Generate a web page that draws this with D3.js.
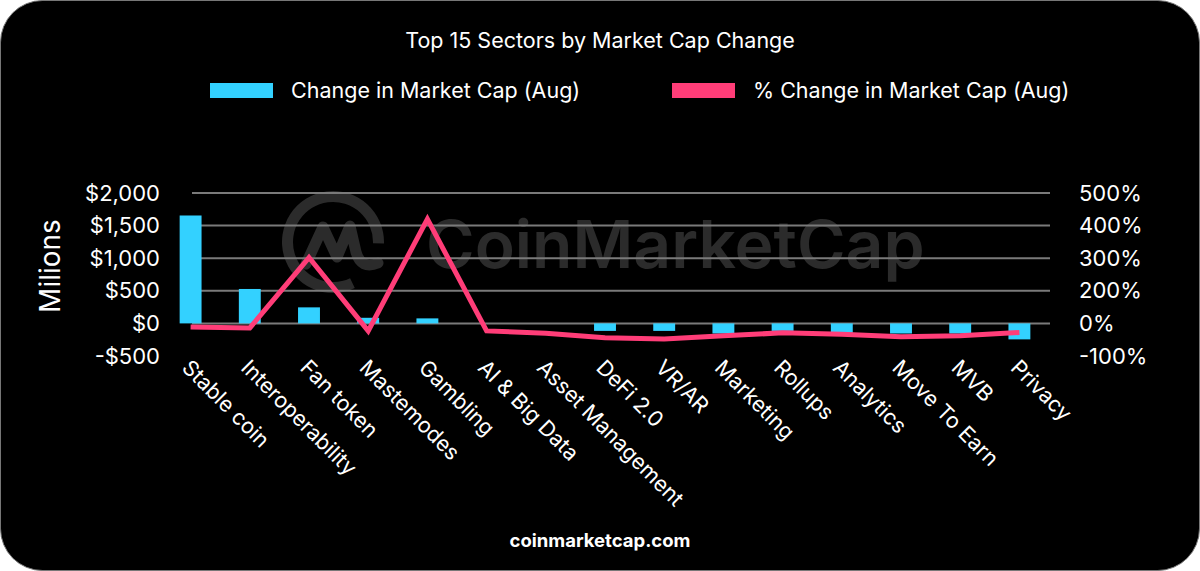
<!DOCTYPE html>
<html>
<head>
<meta charset="utf-8">
<script src="https://cdn.jsdelivr.net/npm/d3@7"></script>
<style>
  html, body { margin: 0; padding: 0; background: #fff; }
  svg { display: block; font-family: Inter, "Noto Sans", sans-serif; }
</style>
</head>
<body>
<div id="chart"></div>
<script>
// data
var sectors = ["Stable coin", "Interoperability", "Fan token", "Mastemodes", "Gambling",
  "AI & Big Data", "Asset Management", "DeFi 2.0", "VR/AR", "Marketing",
  "Rollups", "Analytics", "Move To Earn", "MVB", "Privacy"];
// change in market cap, millions USD
var capChange = [1655, 528, 246, 86, 77, 0, 0, -115, -115, -155, -115, -145, -155, -155, -245];
// % change in market cap
var pctChange = [-11, -14, 302, -23, 420, -23, -30, -44, -48, -38, -29, -33, -41, -38, -28];

var leftTicks = [-500, 0, 500, 1000, 1500, 2000];
var rightTicks = [-100, 0, 200, 300, 400, 500];
var gridTicks = [0, 500, 1000, 1500, 2000];

var svgWidth = 1200, svgHeight = 571;
var blue = "#33d1ff", pink = "#ff3d78";

var svg = d3.select("#chart").append("svg")
  .attr("width", svgWidth)
  .attr("height", svgHeight);

// black card with rounded corners
svg.append("rect")
  .attr("x", 0.5).attr("y", 0.5)
  .attr("width", svgWidth - 1).attr("height", svgHeight - 1)
  .attr("rx", 42).attr("ry", 42)
  .attr("fill", "#000")
  .attr("stroke", "#777").attr("stroke-width", 1);

// scales
var x = d3.scaleBand()
  .domain(sectors)
  .range([161, 1049])
  .paddingInner(0.63)
  .paddingOuter(0.315);

var y = d3.scaleLinear()
  .domain([-500, 2000])
  .range([356, 193]);

// right axis labels sit on the same gridlines as the left ones
var yPct = d3.scaleLinear()
  .domain(rightTicks)
  .range(leftTicks.map(function(d) { return y(d); }));

// watermark
var wm = svg.append("g").attr("fill", "none").attr("stroke", "#2b2b2b");
wm.append("path")
  .attr("d", d3.arc()({ innerRadius: 40, outerRadius: 51, startAngle: 2.7, endAngle: 2.7 + 2 * Math.PI - 1.1 }))
  .attr("transform", "translate(333,242)")
  .attr("fill", "#2b2b2b")
  .attr("stroke", "none");
wm.append("path")
  .attr("d", "M306,264 L323,227 L337,257 L350,226 L356,252 Q361,270 378,263")
  .attr("stroke-width", 11)
  .attr("stroke-linecap", "round")
  .attr("stroke-linejoin", "round");
svg.append("text")
  .attr("x", 426).attr("y", 268)
  .attr("fill", "#2b2b2b")
  .attr("font-size", "66px")
  .attr("font-weight", 600)
  .text("CoinMarketCap");

// gridlines
svg.append("g").selectAll("line")
  .data(gridTicks)
  .enter()
  .append("line")
  .attr("x1", 192).attr("x2", 1050)
  .attr("y1", function(d) { return y(d); })
  .attr("y2", function(d) { return y(d); })
  .attr("stroke", "#7a7a7a")
  .attr("stroke-width", 2);

// bars
svg.append("g").selectAll("rect")
  .data(capChange)
  .enter()
  .append("rect")
  .attr("x", function(d, i) { return x(sectors[i]); })
  .attr("width", x.bandwidth())
  .attr("y", function(d) { return y(Math.max(0, d)); })
  .attr("height", function(d) { return Math.abs(y(d) - y(0)); })
  .attr("fill", blue);

// line
var line = d3.line()
  .x(function(d, i) { return x(sectors[i]) + x.bandwidth() / 2; })
  .y(function(d) { return yPct(d); });

svg.append("path")
  .datum(pctChange)
  .attr("d", line)
  .attr("fill", "none")
  .attr("stroke", pink)
  .attr("stroke-width", 5)
  .attr("stroke-linejoin", "miter");

// axes
var leftAxis = d3.axisLeft(y)
  .tickValues(leftTicks)
  .tickSize(0)
  .tickPadding(32)
  .tickFormat(function(d) { return (d < 0 ? "-$" : "$") + d3.format(",")(Math.abs(d)); });

var rightAxis = d3.axisRight(yPct)
  .tickValues(rightTicks)
  .tickSize(0)
  .tickPadding(29)
  .tickFormat(function(d) { return d + "%"; });

var gl = svg.append("g").attr("transform", "translate(192,0)").call(leftAxis);
var gr = svg.append("g").attr("transform", "translate(1050,0)").call(rightAxis);
[gl, gr].forEach(function(g) {
  g.select(".domain").remove();
  g.selectAll("text")
    .attr("fill", "#fff")
    .attr("font-size", "22px")
    .attr("font-family", "Inter, sans-serif");
});

// x labels
svg.append("g").selectAll("text")
  .data(sectors)
  .enter()
  .append("text")
  .attr("transform", function(d) { return "translate(" + (x(d) + x.bandwidth() / 2 + 1) + ",358) rotate(45)"; })
  .attr("dy", "0.72em")
  .attr("text-anchor", "start")
  .attr("fill", "#fff")
  .attr("font-size", "21.5px")
  .text(function(d) { return d; });

// axis title
svg.append("text")
  .attr("transform", "translate(50,266) rotate(-90)")
  .attr("text-anchor", "middle")
  .attr("dy", "0.35em")
  .attr("fill", "#fff")
  .attr("font-size", "28px")
  .text("Milions");

// title
svg.append("text")
  .attr("x", 600).attr("y", 40)
  .attr("dy", "0.35em")
  .attr("text-anchor", "middle")
  .attr("fill", "#fff")
  .attr("font-size", "21.5px")
  .text("Top 15 Sectors by Market Cap Change");

// legend
var legend = [
  { label: "Change in Market Cap (Aug)", color: blue, x: 210 },
  { label: "% Change in Market Cap (Aug)", color: pink, x: 672 }
];
var lg = svg.append("g").selectAll("g")
  .data(legend)
  .enter()
  .append("g")
  .attr("transform", function(d) { return "translate(" + d.x + ",83)"; });
lg.append("rect")
  .attr("width", 63).attr("height", 15)
  .attr("fill", function(d) { return d.color; });
lg.append("text")
  .attr("x", 81).attr("y", 7.5)
  .attr("dy", "0.35em")
  .attr("fill", "#fff")
  .attr("font-size", "21.5px")
  .text(function(d) { return d.label; });

// footer
svg.append("text")
  .attr("x", 600).attr("y", 541)
  .attr("dy", "0.35em")
  .attr("text-anchor", "middle")
  .attr("fill", "#fff")
  .attr("font-size", "18.5px")
  .attr("font-weight", 700)
  .text("coinmarketcap.com");
</script>
</body>
</html>
